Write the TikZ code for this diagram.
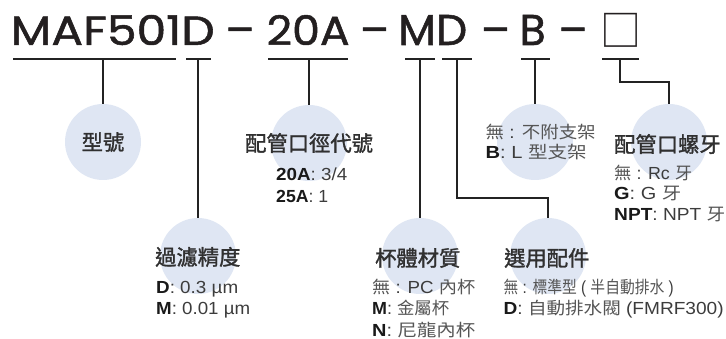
\documentclass[tikz,border=0pt]{standalone}
\usepackage{fontspec}
\usepackage{graphicx}
\setmainfont{Liberation Sans}
\newfontfamily\titlef[FakeBold=1.2]{Poppins}
\newfontfamily\cjk{Noto Sans CJK TC}
\newfontfamily\cjkh[FakeBold=1.4]{Noto Sans CJK TC}
\definecolor{cfill}{RGB}{223,230,243}
\definecolor{lncol}{RGB}{35,35,35}
\definecolor{ttlcol}{RGB}{35,31,32}
\definecolor{hdcol}{RGB}{48,48,48}
\definecolor{subcol}{RGB}{60,60,60}
\definecolor{zhcol}{RGB}{85,85,85}
\definecolor{lbcol}{RGB}{25,25,25}
\newcommand\zh[1]{{\cjk\fontsize{17}{17}\selectfont\color{zhcol}#1}}
\newcommand\lb[1]{\textbf{\textcolor{lbcol}{#1}}}
\newcommand\fitl[2]{\resizebox{#1pt}{\height}{#2}}
\tikzset{
  circ/.style={circle, fill=cfill, draw=none, minimum size=76pt, inner sep=0pt},
  ln/.style={draw=lncol, line width=1.2pt},
  ttl/.style={inner sep=0pt, text=ttlcol, font=\titlef\fontsize{43}{43}\selectfont},
  hd/.style={inner sep=0pt, text=hdcol, font=\cjkh\fontsize{21.3}{21.3}\selectfont},
  sub/.style={inner sep=0pt, text=subcol, anchor=base west, font=\fontsize{17.5}{17.5}\selectfont},
}
\begin{document}
\begin{tikzpicture}[x=1pt,y=-1pt]
\useasboundingbox (0,0) rectangle (726,339);
% circles
\node[circ] (c1) at (103,142) {};
\node[circ] (c2) at (309,143) {};
\node[circ] (c3) at (535,142) {};
\node[circ] (c4) at (669,142) {};
\node[circ] (c5) at (198,256) {};
\node[circ] (c6) at (420,256) {};
\node[circ] (c7) at (548,256) {};
% title
\node[ttl,anchor=base west] (tA) at (10.5,45) {\resizebox{204pt}{30pt}{MAF501D}};
\node[ttl,anchor=base] (d1) at (240,45) {–};
\node[ttl,anchor=base west] (tB) at (266.5,45) {\resizebox{83pt}{30pt}{20A}};
\node[ttl,anchor=base] (d2) at (374.5,45) {–};
\node[ttl,anchor=base west] (tC) at (398,45) {\resizebox{69pt}{30pt}{MD}};
\node[ttl,anchor=base] (d3) at (495.5,45) {–};
\node[ttl,anchor=base west] (tD) at (519.5,45) {\resizebox{26pt}{30pt}{B}};
\node[ttl,anchor=base] (d4) at (573,45) {–};
\node[inner sep=0pt,anchor=south west,text=ttlcol] (tE) at (600,47.5) {\resizebox*{41pt}{34pt}{\cjk □}};
% underlines
\coordinate (u1l) at (13,59);  \coordinate (u1r) at (176,59);
\coordinate (u2l) at (186,59); \coordinate (u2r) at (211,59);
\coordinate (u3l) at (268,59); \coordinate (u3r) at (348,59);
\coordinate (u4l) at (405,59); \coordinate (u4r) at (435,59);
\coordinate (u5l) at (442,59); \coordinate (u5r) at (472,59);
\coordinate (u6l) at (521,59); \coordinate (u6r) at (550,59);
\coordinate (u7l) at (602,59); \coordinate (u7r) at (639,59);
\foreach \i in {1,...,7} {\draw[ln] (u\i l) -- (u\i r);}
% connectors
\draw[ln] (c1.north |- u1l) -- (c1.north);
\draw[ln] (c5.north |- u2l) -- (c5.north);
\draw[ln] (c2.north |- u3l) -- (c2.north);
\draw[ln] (c6.north |- u4l) -- (c6.north);
\coordinate (k5a) at (457,59); \coordinate (k5b) at (457,198);
\draw[ln] (k5a) -- (k5b) -| (c7.north);
\draw[ln] (c3.north |- u6l) -- (c3.north);
\coordinate (k7a) at (620,59); \coordinate (k7b) at (620,82);
\draw[ln] (k7a) -- (k7b) -| (c4.north);
% headings
\node[hd] (h1) at (103,142) {型號};
\node[hd,anchor=west] (h2) at (245,143) {配管口徑代號};
\node[hd,anchor=west] (h3) at (614,144) {配管口螺牙};
\node[hd,anchor=west] (h5) at (155,257) {過濾精度};
\node[hd,anchor=west] (h6) at (375,258) {杯體材質};
\node[hd,anchor=west] (h7) at (504,258) {選用配件};
% sublines
\node[sub] (a1) at (276,181) {\fitl{71}{\lb{20A}: 3/4}};
\node[sub] (a2) at (276,202.5) {\fitl{52}{\lb{25A}: 1}};
\node[sub] (b1) at (485.5,138.5) {\fitl{110}{\zh{無} : \zh{不附支架}}};
\node[sub] (b2) at (485.5,159) {\fitl{101}{\lb{B}: L \zh{型支架}}};
\node[sub] (s1) at (614,179.5) {\fitl{78}{\zh{無} : Rc \zh{牙}}};
\node[sub] (s2) at (614,200) {\fitl{67}{\lb{G}: G \zh{牙}}};
\node[sub] (s3) at (614,220.5) {\fitl{111}{\lb{NPT}: NPT \zh{牙}}};
\node[sub] (f1) at (156,294) {\fitl{82}{\lb{D}: 0.3 µm}};
\node[sub] (f2) at (156,315) {\fitl{94}{\lb{M}: 0.01 µm}};
\node[sub] (m1) at (372,294) {\fitl{103}{\zh{無} : PC \zh{內杯}}};
\node[sub] (m2) at (372,315) {\fitl{77}{\lb{M}: \zh{金屬杯}}};
\node[sub] (m3) at (372,336) {\fitl{103}{\lb{N}: \zh{尼龍內杯}}};
\node[sub] (o1) at (503.5,294) {\fitl{170}{\zh{無} : \zh{標準型} ( \zh{半自動排水} )}};
\node[sub] (o2) at (503.5,315) {\fitl{220}{\lb{D}: \zh{自動排水閥} (FMRF300)}};
\end{tikzpicture}
\end{document}
